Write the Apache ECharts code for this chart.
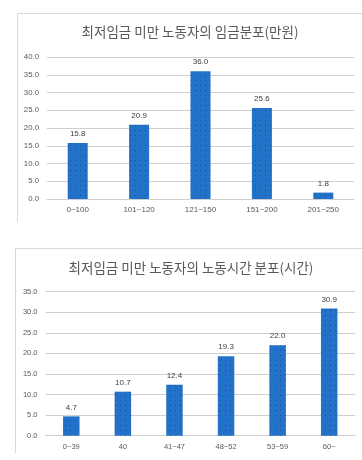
<!DOCTYPE html>
<html><head><meta charset="utf-8">
<script src="https://cdn.jsdelivr.net/npm/echarts@6/dist/echarts.min.js"></script>
<style>html,body{margin:0;padding:0;background:#fff}#c{width:362px;height:460px}</style>
</head><body><div id="c"></div>
<script>
const title1 = '최저임금 미만 노동자의 임금분포(만원)';
const categories1 = ['0~100', '101~120', '121~150', '151~200', '201~250'];
const values1 = [15.8, 20.9, 36.0, 25.6, 1.8];
const yTicks1 = { min: 0, max: 40, interval: 5 };

const title2 = '최저임금 미만 노동자의 노동시간 분포(시간)';
const categories2 = ['0~39', '40', '41~47', '48~52', '53~59', '60~'];
const values2 = [4.7, 10.7, 12.4, 19.3, 22.0, 30.9];
const yTicks2 = { min: 0, max: 35, interval: 5 };

const chart = echarts.init(document.getElementById('c'), null, { renderer: 'canvas' });
const gray = '#595959';
const gridColor = '#cfcfcf';
const barColor = '#2372c9';
const decal = { symbol: 'rect', symbolSize: 1, color: 'rgba(10,30,80,0.4)', dashArrayX: [1, 4], dashArrayY: [1, 4], rotation: 0 };

function yAxis(idx, t, fs) {
  return {
    type: 'value', gridIndex: idx, min: t.min, max: t.max, interval: t.interval,
    axisLine: { show: false }, axisTick: { show: false },
    axisLabel: { color: gray, fontSize: fs, fontFamily: 'Liberation Sans', margin: 8, formatter: v => v.toFixed(1) },
    splitLine: { lineStyle: { color: gridColor, width: 1 } }
  };
}
function xAxis(idx, cats, fs) {
  return {
    type: 'category', gridIndex: idx, data: cats,
    axisLine: { show: true, lineStyle: { color: gridColor } }, axisTick: { show: false },
    axisLabel: { color: gray, fontSize: fs, fontFamily: 'Liberation Sans', margin: 7, interval: 0 }
  };
}
function barSeries(idx, vals, w, fs) {
  return {
    type: 'bar', xAxisIndex: idx, yAxisIndex: idx, data: vals, barWidth: w,
    itemStyle: { color: barColor, decal: decal },
    label: { show: true, position: 'top', distance: 5, color: '#404040', fontSize: fs, fontFamily: 'Liberation Sans', formatter: p => p.value.toFixed(1) }
  };
}

chart.setOption({
  animation: false,
  aria: { enabled: true, decal: { show: false } },
  title: [
    { text: title1, left: 190, top: 25, textAlign: 'center', padding: 0, textStyle: { fontFamily: 'Noto Sans CJK KR', fontSize: 13.5, fontWeight: 'normal', color: gray } },
    { text: title2, left: 191, top: 261, textAlign: 'center', padding: 0, textStyle: { fontFamily: 'Noto Sans CJK KR', fontSize: 13.5, fontWeight: 'normal', color: gray } }
  ],
  grid: [
    { left: 47, right: 8, top: 57, height: 142 },
    { left: 45.5, right: 7, top: 291.7, height: 144 }
  ],
  xAxis: [xAxis(0, categories1, 8), xAxis(1, categories2, 7.5)],
  yAxis: [yAxis(0, yTicks1, 7.8), yAxis(1, yTicks2, 7.5)],
  series: [barSeries(0, values1, 20, 8), barSeries(1, values2, 16.5, 8)],
  graphic: [
    { type: 'line', shape: { x1: 17.5, y1: 13.5, x2: 362, y2: 13.5 }, style: { stroke: '#d9d9d9', lineWidth: 1 } },
    { type: 'line', shape: { x1: 17.5, y1: 13.5, x2: 17.5, y2: 222 }, style: { stroke: '#d9d9d9', lineWidth: 1 } },
    { type: 'line', shape: { x1: 15.5, y1: 248.5, x2: 362, y2: 248.5 }, style: { stroke: '#d9d9d9', lineWidth: 1 } },
    { type: 'line', shape: { x1: 15.5, y1: 248.5, x2: 15.5, y2: 453 }, style: { stroke: '#d9d9d9', lineWidth: 1 } }
  ]
});
</script></body></html>
